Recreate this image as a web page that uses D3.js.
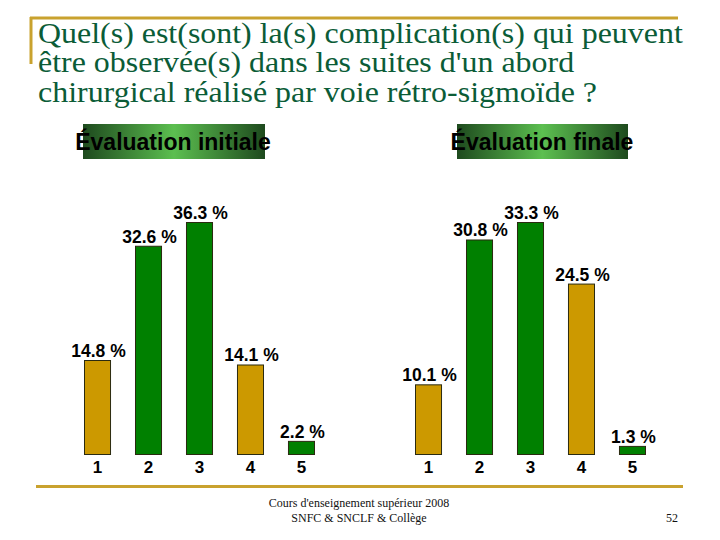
<!DOCTYPE html>
<html>
<head>
<meta charset="utf-8">
<script src="https://cdn.jsdelivr.net/npm/d3@7"></script>
<style>
  html, body { margin: 0; padding: 0; background: #ffffff; }
  svg { display: block; }
  .serif { font-family: "Liberation Serif", "Times New Roman", "DejaVu Serif", serif; }
  .sans { font-family: "Liberation Sans", Arial, "DejaVu Sans", sans-serif; }
</style>
</head>
<body>
<svg id="chart" width="720" height="540"></svg>
<script>
// ---- Data ----
const categories = ["1", "2", "3", "4", "5"];
const initialValues = [14.8, 32.6, 36.3, 14.1, 2.2];
const finalValues = [10.1, 30.8, 33.3, 24.5, 1.3];
const barColors = ["#CC9900", "#008000", "#008000", "#CC9900", "#008000"];
const titleLines = [
  "Quel(s) est(sont) la(s) complication(s) qui peuvent",
  "être observée(s) dans les suites d'un abord",
  "chirurgical réalisé par voie rétro-sigmoïde ?"
];
const panelTitles = ["Évaluation initiale", "Évaluation finale"];
const footerLines = ["Cours d'enseignement supérieur 2008", "SNFC & SNCLF & Collège"];
const pageNumber = "52";

const svg = d3.select("#chart");

// ---- Slide decorations ----
const gold = "#C9A22E";
svg.append("line").attr("x1", 30).attr("x2", 678).attr("y1", 18).attr("y2", 18)
  .attr("stroke", gold).attr("stroke-width", 3);
svg.append("line").attr("x1", 31).attr("x2", 31).attr("y1", 17).attr("y2", 64)
  .attr("stroke", gold).attr("stroke-width", 3);
svg.append("line").attr("x1", 36).attr("x2", 683).attr("y1", 486.5).attr("y2", 486.5)
  .attr("stroke", gold).attr("stroke-width", 3);

// Title (slightly stretched horizontally, like the reference)
const titleBaselines = [43, 72.5, 102];
const titleG = svg.append("g");
const titleSel = titleG.selectAll("text.title").data(titleLines).enter().append("text")
  .attr("class", "title serif")
  .attr("x", 0)
  .attr("y", (d, i) => titleBaselines[i])
  .attr("font-size", 29)
  .attr("fill", "#0B5C37")
  .text(d => d);
const w0 = titleSel.node().getComputedTextLength();
const sx = w0 > 0 ? Math.max(0.9, Math.min(1.25, 645 / w0)) : 1;
titleG.attr("transform", `translate(38,0) scale(${sx},1)`);

// Footer
svg.selectAll("text.footer").data(footerLines).enter().append("text")
  .attr("class", "footer serif")
  .attr("x", 359)
  .attr("y", (d, i) => [507, 522][i])
  .attr("text-anchor", "middle")
  .attr("font-size", 12)
  .attr("fill", "#111")
  .text(d => d);
svg.append("text").attr("class", "serif").attr("x", 678).attr("y", 522).attr("text-anchor", "end")
  .attr("font-size", 12).attr("fill", "#111").text(pageNumber);

// Gradient for panel headers
const defs = svg.append("defs");
const grad = defs.append("linearGradient").attr("id", "hdrGrad")
  .attr("x1", "0%").attr("x2", "100%").attr("y1", "0%").attr("y2", "0%");
grad.append("stop").attr("offset", "0%").attr("stop-color", "#1E4A1E");
grad.append("stop").attr("offset", "50%").attr("stop-color", "#5CBF50");
grad.append("stop").attr("offset", "100%").attr("stop-color", "#1E4A1E");

// ---- Panels ----
const panels = [
  { values: initialValues, title: panelTitles[0], x0: 84, x1: 315, box: [83, 265], tx: 173 },
  { values: finalValues, title: panelTitles[1], x0: 415, x1: 646, box: [457, 628], tx: 542 }
];

const baseY = 455, topY = 222;

panels.forEach(p => {
  const g = svg.append("g");
  const x = d3.scaleBand().domain(categories).range([p.x0, p.x1])
    .paddingInner(0.47).paddingOuter(0);
  const y = d3.scaleLinear().domain([0, d3.max(p.values)]).range([baseY, topY]);
  const data = categories.map((c, i) => ({ cat: c, value: p.values[i], color: barColors[i] }));

  // header box + title
  g.append("rect").attr("x", p.box[0]).attr("y", 124)
    .attr("width", p.box[1] - p.box[0]).attr("height", 35)
    .attr("fill", "url(#hdrGrad)");
  g.append("text")
    .attr("class", "sans")
    .attr("x", p.tx)
    .attr("y", 150)
    .attr("text-anchor", "middle")
    .attr("font-weight", "bold")
    .attr("font-size", 23)
    .attr("fill", "#000")
    .text(p.title);

  // bars
  g.selectAll("rect.bar").data(data).enter().append("rect")
    .attr("class", "bar")
    .attr("x", d => x(d.cat) + 0.5)
    .attr("y", d => y(d.value) + 0.5)
    .attr("width", x.bandwidth() - 1)
    .attr("height", d => y(0) - y(d.value) - 1)
    .attr("fill", d => d.color)
    .attr("stroke", "#2a2a10")
    .attr("stroke-width", 1);

  // value labels
  g.selectAll("text.val").data(data).enter().append("text")
    .attr("class", "val sans")
    .attr("x", d => x(d.cat) + x.bandwidth() / 2 + 1)
    .attr("y", d => y(d.value) - 3)
    .attr("text-anchor", "middle")
    .attr("font-weight", "bold")
    .attr("font-size", 17.5)
    .attr("fill", "#000")
    .text(d => d.value.toFixed(1) + " %");

  // x axis (category labels)
  const axis = d3.axisBottom(x).tickSize(0).tickPadding(6);
  const ag = g.append("g").attr("transform", `translate(0,${baseY})`).call(axis);
  ag.select(".domain").remove();
  ag.selectAll("text")
    .attr("class", "sans")
    .attr("font-family", null)
    .attr("font-weight", "bold")
    .attr("font-size", 17)
    .attr("fill", "#000");
});
</script>
</body>
</html>
